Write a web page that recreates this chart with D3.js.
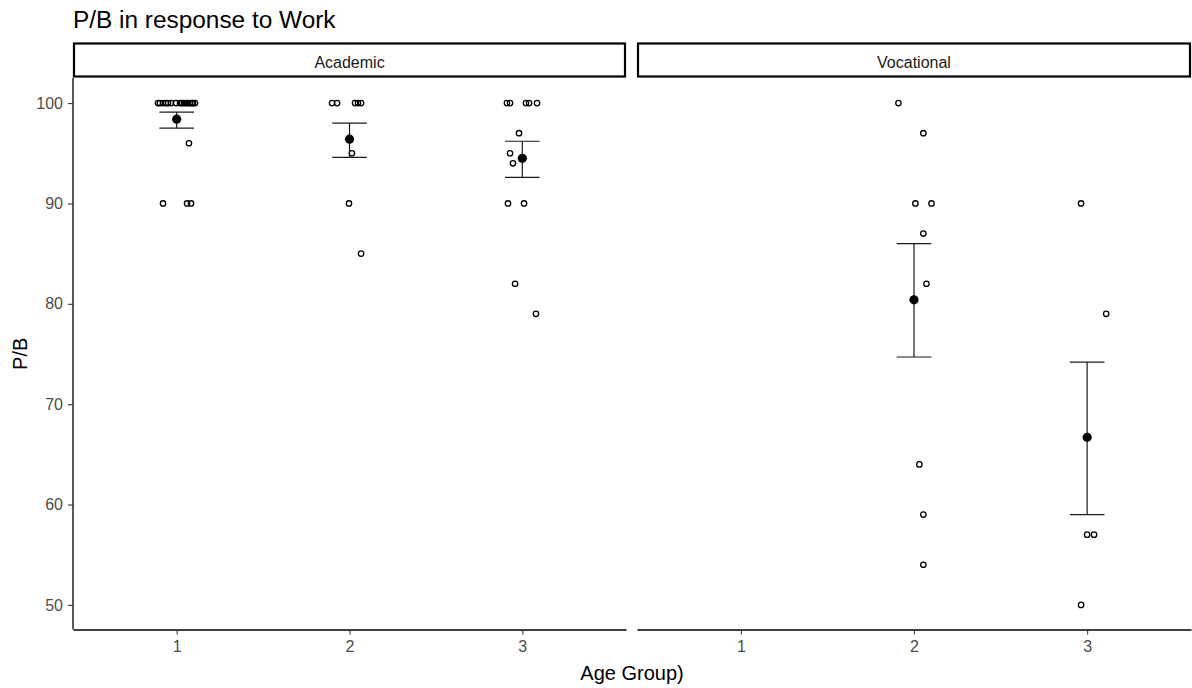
<!DOCTYPE html>
<html>
<head>
<meta charset="utf-8">
<script src="https://cdn.jsdelivr.net/npm/d3@7/dist/d3.min.js"></script>
<style>
  html, body { margin: 0; padding: 0; background: #fff; }
  svg { display: block; font-family: "Liberation Sans", Arial, sans-serif; }
</style>
</head>
<body>
<svg id="chart" width="1192" height="688"></svg>
<script>
// ---------------- data ----------------
const categories = ["1", "2", "3"];
const panels = ["Academic", "Vocational"];
const yTicks = [50, 60, 70, 80, 90, 100];
const chartTitle = "P/B in response to Work";
const xTitle = "Age Group)";
const yTitle = "P/B";

const academic1Values = [100,100,100,100,100,100,100,100,100,100,100,100,100,100,100,100,96,90,90,90];
const academic1Jitter = [-0.108,-0.097,-0.079,-0.062,-0.033,-0.004,0.019,0.031,0.042,0.054,0.065,0.077,0.089,0.094,0.106,-0.050,0.071,-0.079,0.060,0.083];
const academic2Values = [100,100,100,100,100,95,90,85];
const academic2Jitter = [-0.101,-0.072,0.032,0.049,0.067,0.014,-0.003,0.067];
const academic3Values = [100,100,100,100,100,97,95,94,90,90,82,79];
const academic3Jitter = [-0.089,-0.071,0.021,0.039,0.085,-0.019,-0.071,-0.054,-0.083,0.010,-0.042,0.079];
const vocational2Values = [100,97,90,90,87,82,64,59,54];
const vocational2Jitter = [-0.090,0.054,0.008,0.101,0.054,0.072,0.031,0.054,0.054];
const vocational3Values = [90,79,57,57,50];
const vocational3Jitter = [-0.035,0.110,0.000,0.040,-0.035];

// summary (mean, lower, upper) per group
const academicMean  = [98.4, 96.4, 94.5];
const academicLower = [97.5, 94.6, 92.6];
const academicUpper = [99.1, 98.0, 96.2];
const vocationalMean  = [null, 80.4, 66.7];
const vocationalLower = [null, 74.7, 59.0];
const vocationalUpper = [null, 86.0, 74.2];

// ---------------- build ----------------
const rawData = {
  Academic: [
    {group: 1, values: academic1Values, jitter: academic1Jitter},
    {group: 2, values: academic2Values, jitter: academic2Jitter},
    {group: 3, values: academic3Values, jitter: academic3Jitter}
  ],
  Vocational: [
    {group: 2, values: vocational2Values, jitter: vocational2Jitter},
    {group: 3, values: vocational3Values, jitter: vocational3Jitter}
  ]
};
const summary = {
  Academic: {mean: academicMean, lower: academicLower, upper: academicUpper},
  Vocational: {mean: vocationalMean, lower: vocationalLower, upper: vocationalUpper}
};

const svg = d3.select("#chart");
const plotTop = 78, plotBottom = 629.5;
const panelX = {Academic: [73, 626], Vocational: [637, 1191]};

const y = d3.scaleLinear().domain([47.5, 102.5]).range([plotBottom + 0.5, plotTop]);

// title
svg.append("text")
  .attr("x", 73).attr("y", 28)
  .attr("font-size", 24.4).attr("fill", "#000")
  .text(chartTitle);

// y axis (left panel only)
const yAxis = svg.append("g")
  .attr("transform", `translate(${panelX.Academic[0]},0)`)
  .call(d3.axisLeft(y).tickValues(yTicks).tickSize(5).tickPadding(5).tickSizeOuter(0));
yAxis.select(".domain").attr("stroke", "#000").attr("stroke-width", 1.3)
  .attr("d", `M0,${plotBottom}V${plotTop}`);
yAxis.selectAll(".tick line").attr("stroke", "#333").attr("stroke-width", 1.1);
yAxis.selectAll(".tick text").attr("font-size", 16).attr("fill", "#4D4D4D")
  .attr("font-family", "Liberation Sans, Arial, sans-serif");

panels.forEach(p => {
  const [x0, x1] = panelX[p];
  const x = d3.scaleLinear().domain([0.4, 3.6]).range([x0, x1]);

  // strip
  svg.append("rect")
    .attr("x", x0 + 1).attr("y", 43.5)
    .attr("width", x1 - x0 - 2).attr("height", 33)
    .attr("fill", "#fff").attr("stroke", "#000").attr("stroke-width", 2.2);
  svg.append("text")
    .attr("x", (x0 + x1) / 2).attr("y", 62)
    .attr("dy", "0.36em")
    .attr("text-anchor", "middle")
    .attr("font-size", 16).attr("fill", "#1A1A1A")
    .text(p);

  // x axis
  const xAxis = svg.append("g")
    .attr("transform", `translate(0,${plotBottom})`)
    .call(d3.axisBottom(x).tickValues([1, 2, 3]).tickFormat((d, i) => categories[i])
      .tickSize(5).tickPadding(6).tickSizeOuter(0));
  xAxis.select(".domain").attr("stroke", "#000").attr("stroke-width", 1.3);
  xAxis.selectAll(".tick line").attr("stroke", "#333").attr("stroke-width", 1.1);
  xAxis.selectAll(".tick text").attr("font-size", 16).attr("fill", "#4D4D4D")
    .attr("font-family", "Liberation Sans, Arial, sans-serif");

  // raw points
  const pts = [];
  rawData[p].forEach(g => g.values.forEach((v, i) => pts.push({x: g.group + g.jitter[i], v})));
  svg.append("g").selectAll("circle").data(pts).join("circle")
    .attr("cx", d => x(d.x)).attr("cy", d => y(d.v))
    .attr("r", 2.7)
    .attr("fill", "none").attr("stroke", "#000").attr("stroke-width", 1.3);

  // error bars + means
  const s = summary[p];
  const sd = categories.map((c, i) => ({g: i + 1, m: s.mean[i], lo: s.lower[i], hi: s.upper[i]}))
    .filter(d => d.m !== null);
  const eb = svg.append("g").attr("stroke", "#1a1a1a").attr("stroke-width", 1.2);
  sd.forEach(d => {
    eb.append("line").attr("x1", x(d.g)).attr("x2", x(d.g)).attr("y1", y(d.lo)).attr("y2", y(d.hi));
    eb.append("line").attr("x1", x(d.g - 0.1)).attr("x2", x(d.g + 0.1)).attr("y1", y(d.lo)).attr("y2", y(d.lo));
    eb.append("line").attr("x1", x(d.g - 0.1)).attr("x2", x(d.g + 0.1)).attr("y1", y(d.hi)).attr("y2", y(d.hi));
  });
  svg.append("g").selectAll("circle").data(sd).join("circle")
    .attr("cx", d => x(d.g)).attr("cy", d => y(d.m))
    .attr("r", 4.6).attr("fill", "#000");
});

// axis titles
svg.append("text")
  .attr("x", (73 + 1191) / 2).attr("y", 680)
  .attr("text-anchor", "middle").attr("font-size", 20).attr("fill", "#000")
  .text(xTitle);
svg.append("text")
  .attr("transform", `translate(27,${(plotTop + plotBottom) / 2}) rotate(-90)`)
  .attr("text-anchor", "middle").attr("font-size", 20).attr("fill", "#000")
  .text(yTitle);
</script>
</body>
</html>
